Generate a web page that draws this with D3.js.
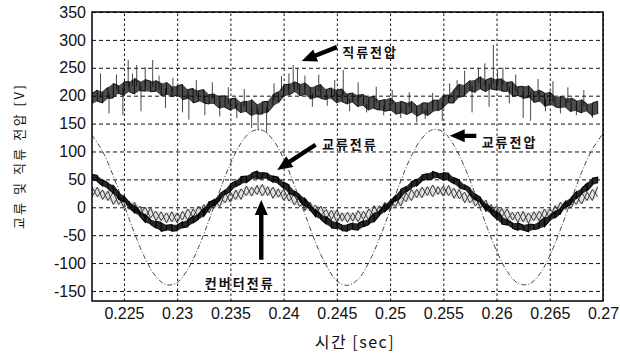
<!DOCTYPE html>
<html>
<head>
<meta charset="utf-8">
<script src="https://cdn.jsdelivr.net/npm/d3@7"></script>
<style>
  body { margin: 0; background: #fff; }
  svg text { font-family: "Liberation Sans", Arial, sans-serif; fill: #111; }
  .kr { font-family: "Noto Sans CJK KR", sans-serif; }
</style>
</head>
<body>
<svg id="chart" width="620" height="356"></svg>
<script>
// axis ticks
const xTicks = [0.225, 0.23, 0.235, 0.24, 0.245, 0.25, 0.255, 0.26, 0.265, 0.27];
const xTickLabels = ['0.225', '0.23', '0.235', '0.24', '0.245', '0.25', '0.255', '0.26', '0.265', '0.27'];
const yTicks = [-150, -100, -50, 0, 50, 100, 150, 200, 250, 300, 350];

// sampling of the traces
const tStart = 0.222;
const noisyStep = 0.0005;   // 96 samples
const voltStep = 0.001;     // 49 samples

// AC voltage (교류전압)
const acVolt = [129, 100, 56, 5, -47, -92, -124, -139, -135, -111, -72, -23, 30, 78, 115, 136, 138, 121, 87, 40,
  -12, -63, -104, -132, -140, -129, -99, -56, -5, 47, 92, 124, 139, 135, 111, 72, 23, -30, -78, -115,
  -136, -138, -121, -87, -40, 12, 63, 104, 132];

// DC voltage (직류전압) band
const dcHigh = [204, 210, 207, 215, 222, 218, 225, 225, 231, 225, 229, 226, 227, 222, 224, 216, 218, 220, 211, 213,
  209, 211, 202, 203, 199, 200, 194, 196, 188, 190, 193, 184, 189, 190, 202, 207, 219, 221, 225, 221,
  223, 215, 217, 220, 211, 214, 210, 212, 203, 205, 201, 202, 197, 199, 191, 193, 196, 188, 190, 187,
  190, 182, 187, 187, 192, 192, 201, 201, 211, 221, 219, 227, 228, 234, 228, 232, 229, 230, 224, 225,
  216, 217, 218, 208, 210, 205, 207, 197, 199, 195, 196, 191, 193, 185, 187, 190];
const dcLow = [185, 190, 187, 195, 196, 204, 201, 207, 203, 209, 208, 207, 208, 200, 202, 198, 201, 193, 195, 187,
  190, 187, 185, 185, 177, 179, 174, 177, 169, 171, 164, 167, 167, 170, 181, 187, 199, 201, 207, 200,
  202, 194, 197, 195, 193, 195, 187, 189, 185, 188, 180, 182, 174, 177, 174, 172, 174, 167, 169, 166,
  170, 163, 168, 164, 171, 173, 178, 187, 187, 197, 200, 209, 206, 212, 207, 212, 210, 208, 208, 199,
  200, 195, 197, 188, 190, 181, 184, 180, 178, 179, 171, 173, 169, 172, 164, 167];
const dcSpikeT = [0.2228, 0.2236, 0.2243, 0.2249, 0.2254, 0.2258, 0.2262, 0.2266, 0.2270, 0.2277, 0.2283, 0.2289,
  0.2296, 0.2305, 0.2311, 0.2318, 0.2326, 0.2333, 0.2340, 0.2348, 0.2356, 0.2363, 0.2370, 0.2376, 0.2384,
  0.2391, 0.2398, 0.2405, 0.2409, 0.2413, 0.2420, 0.2427, 0.2433, 0.2441, 0.2448, 0.2456, 0.2462, 0.2470,
  0.2478, 0.2487, 0.2494, 0.2502, 0.2510, 0.2518, 0.2525, 0.2533, 0.2540, 0.2549, 0.2556, 0.2563, 0.2570,
  0.2577, 0.2583, 0.2589, 0.2593, 0.2597, 0.2601, 0.2606, 0.2612, 0.2618, 0.2625, 0.2632, 0.2639, 0.2646,
  0.2653, 0.2660, 0.2667, 0.2675, 0.2682, 0.2690];
const dcSpikeV = [240, 168, 238, 165, 264, 240, 255, 172, 251, 264, 236, 178,
  232, 170, 157, 228, 165, 224, 163, 215, 160, 212, 142, 138, 133,
  222, 235, 240, 255, 250, 236, 180, 238, 182, 228, 246, 172, 224,
  170, 216, 165, 210, 160, 206, 152, 158, 205, 155, 222, 228, 245,
  170, 250, 258, 180, 291, 245, 250, 186, 238, 160, 155, 230, 172,
  226, 168, 215, 165, 210, 160];

// AC current (교류전류) band
const acCurHigh = [59, 57, 49, 44, 39, 27, 20, 9, 3, -7, -13, -22, -25, -27, -32, -31, -32, -26, -23, -16,
  -12, -2, 9, 14, 24, 31, 42, 47, 55, 56, 61, 65, 62, 61, 56, 54, 45, 40, 29, 23,
  16, 4, -4, -13, -17, -24, -27, -32, -31, -28, -29, -24, -21, -11, -6, 5, 11, 21, 32, 37,
  46, 50, 58, 60, 64, 61, 62, 61, 53, 49, 40, 35, 24, 18, 6, -1, -7, -17, -22, -28,
  -28, -32, -30, -31, -26, -19, -15, -7, -1, 11, 17, 28, 34, 43, 52, 54];
const acCurLow = [48, 46, 38, 33, 25, 14, 10, -1, -10, -16, -27, -31, -37, -43, -41, -43, -42, -37, -35, -28,
  -22, -16, -3, 3, 12, 23, 28, 37, 42, 44, 51, 51, 51, 51, 45, 42, 34, 25, 21, 11,
  2, -5, -17, -22, -30, -37, -38, -42, -43, -40, -41, -35, -31, -26, -15, -8, 1, 11, 17, 27,
  34, 38, 47, 49, 51, 53, 49, 48, 42, 35, 32, 22, 13, 7, -5, -12, -21, -30, -32, -38,
  -41, -41, -44, -40, -38, -35, -24, -19, -11, 0, 5, 16, 24, 29, 40, 43];

// converter current (컨버터전류) band
const convHigh = [36, 36, 31, 29, 27, 20, 17, 11, 9, 2, 0, -1, -7, -8, -10, -8, -10, -7, -3, -3,
  2, 5, 11, 13, 19, 26, 27, 31, 33, 38, 36, 39, 41, 37, 36, 33, 32, 25, 23, 20,
  13, 9, 4, 2, -4, -5, -5, -10, -9, -10, -6, -7, -3, 3, 3, 9, 12, 19, 20, 26,
  32, 32, 36, 37, 40, 37, 38, 39, 34, 32, 27, 25, 18, 15, 13, 5, 2, -2, -3, -9,
  -8, -7, -10, -8, -7, -3, -3, 3, 9, 11, 16, 20, 26, 27, 32, 37];
const convLow = [19, 19, 14, 12, 5, 5, -1, -4, -11, -13, -20, -19, -24, -24, -28, -26, -28, -23, -23, -18,
  -17, -11, -10, -1, 1, 8, 9, 14, 14, 21, 20, 23, 20, 21, 16, 18, 13, 11, 4, 1,
  -6, -7, -13, -15, -21, -22, -27, -25, -27, -25, -26, -22, -23, -15, -14, -7, -6, 1, 2, 10,
  12, 17, 17, 21, 19, 23, 20, 21, 16, 15, 8, 8, 2, -1, -8, -11, -18, -17, -22, -23,
  -27, -26, -29, -24, -24, -20, -20, -14, -13, -4, -2, 5, 6, 12, 12, 19];

// annotations: label position and arrow tail -> tip, in data units
const notes = [
  { text: '직류전압', t: 0.2455, v: 278, tail: [0.2450, 287], tip: [0.2417, 262] },
  { text: '교류전류', t: 0.2436, v: 112, tail: [0.2430, 112], tip: [0.2394, 67] },
  { text: '교류전압', t: 0.2586, v: 117, tail: [0.2581, 128], tip: [0.2556, 128] },
  { text: '컨버터전류', t: 0.2326, v: -136, tail: [0.2379, -94], tip: [0.2379, 13] }
];

const margin = { top: 12, right: 17, bottom: 55, left: 92 },
  width = 620 - margin.left - margin.right,
  height = 356 - margin.top - margin.bottom;

const svg = d3.select('#chart');
const g = svg.append('g').attr('transform', 'translate(' + margin.left + ',' + margin.top + ')');

const x = d3.scaleLinear().domain([0.222, 0.27]).range([0, width]);
const y = d3.scaleLinear().domain([-168, 350]).range([height, 0]);

svg.append('defs').append('clipPath').attr('id', 'plot')
  .append('rect').attr('width', width).attr('height', height);

// grid + tick labels
const xAxis = g.append('g')
  .attr('transform', 'translate(0,' + height + ')')
  .call(d3.axisBottom(x).tickValues(xTicks).tickSize(-height).tickPadding(7)
    .tickFormat((d, i) => xTickLabels[i]));
const yAxis = g.append('g')
  .call(d3.axisLeft(y).tickValues(yTicks).tickSize(-width).tickPadding(6)
    .tickFormat(d => String(d)));
[xAxis, yAxis].forEach(a => {
  a.select('.domain').remove();
  a.selectAll('text').attr('font-size', 16).attr('fill', '#111')
    .attr('font-family', '"Liberation Sans", Arial, sans-serif');
});
yAxis.selectAll('line').attr('stroke', '#111').attr('stroke-width', 1).attr('stroke-dasharray', '4,3');
xAxis.selectAll('line').attr('stroke', '#111').attr('stroke-width', 1).attr('stroke-dasharray', '2.5,2.5');

const plot = g.append('g').attr('clip-path', 'url(#plot)');

const tN = d3.range(dcHigh.length).map(i => tStart + i * noisyStep);
const tV = d3.range(acVolt.length).map(i => tStart + i * voltStep);

// AC voltage: thin dash-dot sine
plot.append('path')
  .datum(tV.map((t, i) => [t, acVolt[i]]))
  .attr('fill', 'none')
  .attr('stroke', '#333')
  .attr('stroke-width', 0.9)
  .attr('stroke-dasharray', '5,2,1,2')
  .attr('d', d3.line().x(d => x(d[0])).y(d => y(d[1])).curve(d3.curveCatmullRom));

const pline = d3.line().x(d => x(d[0])).y(d => y(d[1]));

// min/max trace: vertical stroke per sample, joined to the next one
function comb(lo, hi) {
  const pts = [];
  tN.forEach((t, i) => {
    if (i % 2) { pts.push([t, hi[i]], [t, lo[i]]); } else { pts.push([t, lo[i]], [t, hi[i]]); }
  });
  return pts;
}
function cross(lo, hi, flip) {
  return tN.map((t, i) => [t, (i % 2 === (flip ? 1 : 0)) ? hi[i] : lo[i]]);
}
function area(lo, hi, fill, opacity) {
  plot.append('path')
    .datum(d3.range(tN.length))
    .attr('fill', fill).attr('fill-opacity', opacity)
    .attr('d', d3.area().x(i => x(tN[i])).y0(i => y(lo[i])).y1(i => y(hi[i])));
}
function stroke(pts, color, sw) {
  plot.append('path').datum(pts)
    .attr('fill', 'none').attr('stroke', color).attr('stroke-width', sw)
    .attr('stroke-linejoin', 'miter').attr('d', pline);
}

// DC voltage: spikes + dense band
plot.append('g').selectAll('line')
  .data(dcSpikeT)
  .join('line')
  .attr('x1', d => x(d)).attr('x2', d => x(d))
  .attr('y1', d => {
    const k = Math.round((d - tStart) / noisyStep);
    return y((dcHigh[k] + dcLow[k]) / 2);
  })
  .attr('y2', (d, i) => y(dcSpikeV[i]))
  .attr('stroke', '#333').attr('stroke-width', 0.9);
area(dcLow, dcHigh, '#000', 0.7);
stroke(comb(dcLow, dcHigh), '#111', 1);

// converter current: hatched grey band
area(convLow, convHigh, '#000', 0.12);
stroke(cross(convLow, convHigh, false), '#3a3a3a', 1);
stroke(cross(convLow, convHigh, true), '#3a3a3a', 1);

// AC current: thick black band
area(acCurLow, acCurHigh, '#000', 0.85);
stroke(comb(acCurLow, acCurHigh), '#000', 1.1);

// frame
g.append('rect').attr('width', width).attr('height', height)
  .attr('fill', 'none').attr('stroke', '#000').attr('stroke-width', 1.5);

// arrows and labels
function arrowPoints(x1, y1, x2, y2, sw, hw, hl) {
  const dx = x2 - x1, dy = y2 - y1, L = Math.hypot(dx, dy);
  const ux = dx / L, uy = dy / L, px = -uy, py = ux;
  const bx = x2 - ux * hl, by = y2 - uy * hl;
  return [
    [x1 + px * sw, y1 + py * sw], [bx + px * sw, by + py * sw], [bx + px * hw, by + py * hw],
    [x2, y2],
    [bx - px * hw, by - py * hw], [bx - px * sw, by - py * sw], [x1 - px * sw, y1 - py * sw]
  ];
}
const ann = g.append('g');
notes.forEach(n => {
  const pts = arrowPoints(x(n.tail[0]), y(n.tail[1]), x(n.tip[0]), y(n.tip[1]), 2.2, 6.5, 15);
  ann.append('polygon').attr('points', pts.map(p => p.join(',')).join(' ')).attr('fill', '#000');
  ann.append('text')
    .attr('class', 'kr')
    .attr('x', x(n.t)).attr('y', y(n.v))
    .attr('dy', '0.35em')
    .attr('font-size', 13).attr('font-weight', 'bold')
    .attr('letter-spacing', 2)
    .text(n.text);
});

// axis titles
svg.append('text')
  .attr('class', 'kr')
  .attr('x', 355).attr('y', 348)
  .attr('text-anchor', 'middle')
  .attr('font-size', 16).attr('letter-spacing', 1.5)
  .text('시간 [sec]');
svg.append('text')
  .attr('class', 'kr')
  .attr('transform', 'translate(24,156) rotate(-90)')
  .attr('text-anchor', 'middle')
  .attr('font-size', 13).attr('letter-spacing', 2.5)
  .text('교류 및 직류 전압 [V]');
</script>
</body>
</html>
